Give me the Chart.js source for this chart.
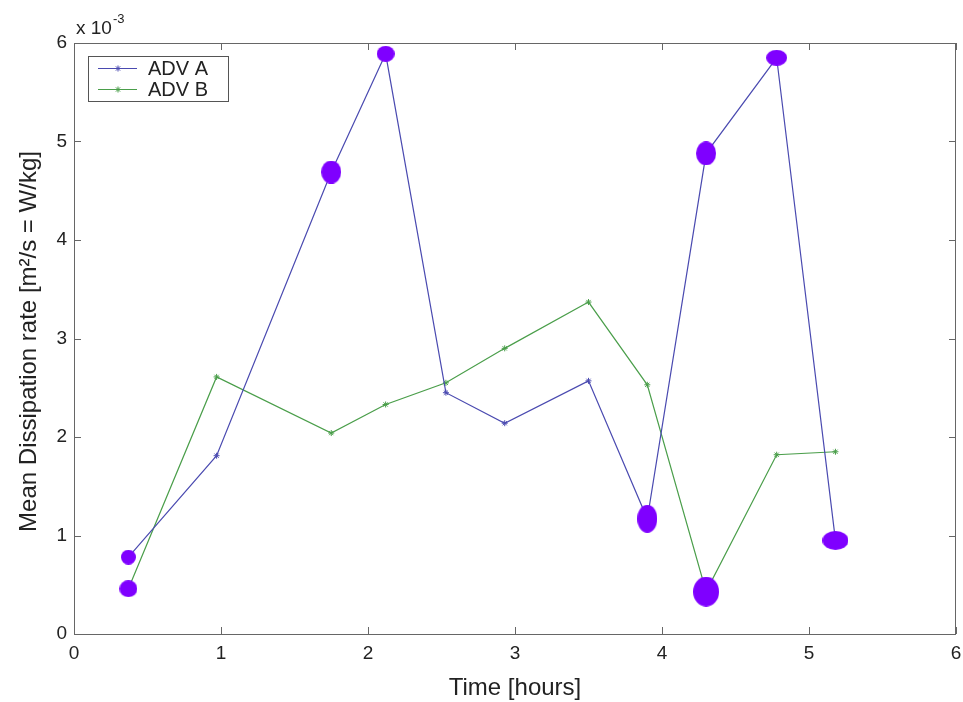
<!DOCTYPE html>
<html>
<head>
<meta charset="utf-8">
<title>Mean Dissipation rate</title>
<script src="https://cdn.jsdelivr.net/npm/chart.js@4.4.1/dist/chart.umd.min.js"></script>
<style>
    html, body { margin: 0; padding: 0; background: #fff; }
    #wrap { width: 963px; height: 702px; }
</style>
</head>
<body>
<div id="wrap"><canvas id="chart" width="963" height="702"></canvas></div>
<script>
// Data (values in units of 10^-3 W/kg)
const hours = [0.37, 0.97, 1.75, 2.12, 2.53, 2.93, 3.50, 3.90, 4.30, 4.78, 5.18];
const advA = [0.78, 1.81, 4.69, 5.89, 2.45, 2.14, 2.57, 1.17, 4.88, 5.85, 0.95];
const advB = [0.46, 2.61, 2.04, 2.33, 2.55, 2.90, 3.37, 2.53, 0.43, 1.82, 1.85];
const seriesNames = ['ADV A', 'ADV B'];
// highlighted samples (index into the series above)
const markedA = [0, 2, 3, 7, 8, 9, 10];
const markedB = [0, 8];
const axisTicks = [0, 1, 2, 3, 4, 5, 6];

// styles
const colA = '#4a4ab0';
const colB = '#4a9e4a';
const markCol = '#7f00ff';
const fontFam = "'Liberation Sans', Arial, sans-serif";
// ellipse sizes [w, h] for the marked samples (A first, then B)
const markSizes = [[15, 15], [20, 23], [18, 16], [20, 28], [20, 24], [21, 16], [26, 19], [18, 17], [26, 30]];

const toPoints = (xs, ys) => xs.map((x, i) => ({ x: x, y: ys[i] }));

const marked = markedA.map(i => ({ x: hours[i], y: advA[i] }))
    .concat(markedB.map(i => ({ x: hours[i], y: advB[i] })));

const makeEllipse = (w, h) => {
    const c = document.createElement('canvas');
    c.width = w; c.height = h;
    const g = c.getContext('2d');
    g.fillStyle = markCol;
    g.beginPath();
    g.ellipse(w / 2, h / 2, w / 2, h / 2, 0, 0, Math.PI * 2);
    g.fill();
    return c;
};
const ellipses = markSizes.map(s => makeEllipse(s[0], s[1]));

Chart.defaults.font.family = fontFam;
Chart.defaults.color = '#222';

// box, inward ticks, axis titles, exponent and legend
const matlabFrame = {
    id: 'matlabFrame',
    afterDraw: (chart) => {
        const { ctx, chartArea: a, scales: { x, y } } = chart;
        ctx.save();
        ctx.strokeStyle = '#666';
        ctx.lineWidth = 1;
        ctx.strokeRect(a.left + 0.5, a.top + 0.5, a.right - a.left - 1, a.bottom - a.top);
        ctx.beginPath();
        axisTicks.forEach(v => {
            const px = Math.round(x.getPixelForValue(v)) + 0.5;
            ctx.moveTo(px, a.bottom); ctx.lineTo(px, a.bottom - 7);
            ctx.moveTo(px, a.top); ctx.lineTo(px, a.top + 7);
            const py = Math.round(y.getPixelForValue(v)) + 0.5;
            ctx.moveTo(a.left, py); ctx.lineTo(a.left + 7, py);
            ctx.moveTo(a.right, py); ctx.lineTo(a.right - 7, py);
        });
        ctx.stroke();

        // axis titles
        ctx.fillStyle = '#222';
        ctx.font = '24px ' + fontFam;
        ctx.textAlign = 'center';
        ctx.textBaseline = 'middle';
        ctx.fillText('Time [hours]', (a.left + a.right) / 2, 688);
        ctx.save();
        ctx.translate(29, (a.top + a.bottom) / 2 + 3);
        ctx.rotate(-Math.PI / 2);
        ctx.fillText('Mean Dissipation rate [m\u00B2/s = W/kg]', 0, 0);
        ctx.restore();

        // exponent
        ctx.textAlign = 'left';
        ctx.textBaseline = 'alphabetic';
        ctx.font = '19px ' + fontFam;
        ctx.fillText('x 10', 76, 34);
        const w = ctx.measureText('x 10').width;
        ctx.font = '13px ' + fontFam;
        ctx.fillText('-3', 77 + w, 23);

        // legend
        ctx.strokeStyle = '#555';
        ctx.strokeRect(88.5, 56.5, 140, 45);
        [colA, colB].forEach((c, i) => {
            const ly = 68.5 + i * 21;
            ctx.strokeStyle = c;
            ctx.beginPath();
            ctx.moveTo(98, ly); ctx.lineTo(137, ly);
            ctx.stroke();
            Chart.helpers.drawPoint(ctx, { pointStyle: 'star', radius: 3, borderWidth: 1 }, 118, ly);
            ctx.fillStyle = '#222';
            ctx.font = '20px ' + fontFam;
            ctx.textBaseline = 'middle';
            ctx.fillText(seriesNames[i], 148, ly + 1);
        });
        ctx.restore();
    }
};

new Chart(document.getElementById('chart'), {
    type: 'scatter',
    plugins: [matlabFrame],
    data: {
        datasets: [
            {
                label: 'marked',
                data: marked,
                pointStyle: ellipses,
                pointRadius: 12,
                order: 0
            },
            {
                label: seriesNames[0],
                data: toPoints(hours, advA),
                showLine: true,
                borderColor: colA,
                backgroundColor: colA,
                borderWidth: 1.2,
                pointStyle: 'star',
                pointRadius: 3,
                pointBorderWidth: 1,
                order: 1
            },
            {
                label: seriesNames[1],
                data: toPoints(hours, advB),
                showLine: true,
                borderColor: colB,
                backgroundColor: colB,
                borderWidth: 1.2,
                pointStyle: 'star',
                pointRadius: 3,
                pointBorderWidth: 1,
                order: 2
            }
        ]
    },
    options: {
        responsive: false,
        animation: false,
        layout: { autoPadding: false, padding: { top: 43, right: 7, left: 0, bottom: 0 } },
        plugins: {
            legend: { display: false },
            tooltip: { enabled: false }
        },
        scales: {
            x: {
                min: 0, max: 6,
                afterBuildTicks: (s) => { s.ticks = axisTicks.map(v => ({ value: v })); },
                afterFit: (s) => { s.height = 68; s.paddingLeft = 0; s.paddingRight = 0; },
                grid: { display: false, drawTicks: false },
                border: { display: false },
                ticks: { padding: 8, font: { size: 19 }, color: '#222' }
            },
            y: {
                min: 0, max: 6,
                afterBuildTicks: (s) => { s.ticks = axisTicks.map(v => ({ value: v })); },
                afterFit: (s) => { s.width = 74; s.paddingTop = 0; s.paddingBottom = 0; },
                grid: { display: false, drawTicks: false },
                border: { display: false },
                ticks: { padding: 7, font: { size: 19 }, color: '#222' }
            }
        }
    }
});
</script>
</body>
</html>
